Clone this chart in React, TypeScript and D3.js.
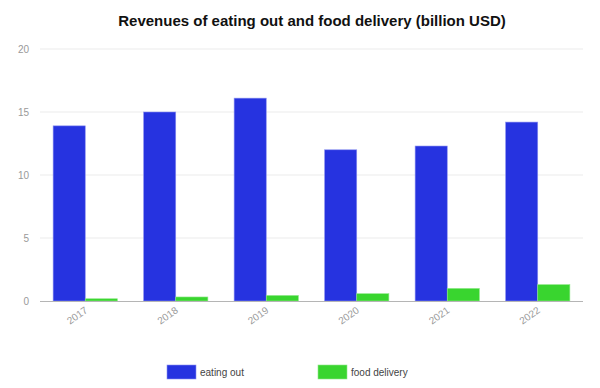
import React, { useEffect, useRef } from 'react'
import * as d3 from 'd3'

const years = ['2017', '2018', '2019', '2020', '2021', '2022']
const eatingOut = [13.9, 15.0, 16.1, 12.0, 12.3, 14.2]
const foodDelivery = [0.18, 0.32, 0.44, 0.58, 1.0, 1.3]
const seriesNames = ['eating out', 'food delivery']
const seriesColors = ['#2633e0', '#39d52f']
const yTicks = [0, 5, 10, 15, 20]

const W = 600
const H = 388
const margin = { top: 49, right: 17, bottom: 87, left: 40 }

export default function App() {
    const svgRef = useRef<SVGSVGElement | null>(null)

    useEffect(() => {
        const svg = d3.select(svgRef.current)
        svg.selectAll('*').remove()

        const x0 = d3
            .scaleBand()
            .domain(years)
            .range([margin.left, W - margin.right])
            .paddingInner(0.29)
            .paddingOuter(0.145)

        const x1 = d3.scaleBand().domain(seriesNames).range([0, x0.bandwidth()])

        const y = d3
            .scaleLinear()
            .domain([0, 20])
            .range([H - margin.bottom, margin.top])

        // gridlines
        svg.append('g')
            .selectAll('line')
            .data(yTicks.filter((t) => t > 0))
            .join('line')
            .attr('x1', margin.left)
            .attr('x2', W - margin.right)
            .attr('y1', (d) => y(d))
            .attr('y2', (d) => y(d))
            .attr('stroke', '#ebebeb')
            .attr('stroke-width', 1)

        // y labels
        svg.append('g')
            .selectAll('text')
            .data(yTicks)
            .join('text')
            .attr('x', 29)
            .attr('y', (d) => y(d))
            .attr('dy', '0.35em')
            .attr('text-anchor', 'end')
            .attr('font-family', 'Arial, "Liberation Sans", sans-serif')
            .attr('font-size', 10)
            .attr('fill', '#999')
            .text((d) => d)

        // bars
        const rows = years.map((yr, i) => ({ year: yr, values: [eatingOut[i], foodDelivery[i]] }))
        const group = svg
            .append('g')
            .selectAll('g')
            .data(rows)
            .join('g')
            .attr('transform', (d) => `translate(${x0(d.year)},0)`)

        group
            .selectAll('rect')
            .data((d) => d.values.map((v, k) => ({ key: seriesNames[k], value: v, k })))
            .join('rect')
            .attr('x', (d) => x1(d.key)!)
            .attr('width', x1.bandwidth())
            .attr('y', (d) => y(d.value))
            .attr('height', (d) => y(0) - y(d.value))
            .attr('fill', (d) => seriesColors[d.k])
            .attr('stroke', (d) => (d.k === 0 ? '#8b91f0' : '#8fe889'))
            .attr('stroke-width', 0.6)

        // baseline
        svg.append('line')
            .attr('x1', margin.left)
            .attr('x2', W - margin.right)
            .attr('y1', y(0) + 0.5)
            .attr('y2', y(0) + 0.5)
            .attr('stroke', '#b5b5b5')

        // x labels, rotated
        svg.append('g')
            .selectAll('text')
            .data(years)
            .join('text')
            .attr(
                'transform',
                (d) => `translate(${x0(d)! + x0.bandwidth() / 2 + 1},${y(0) + 8}) rotate(-35)`
            )
            .attr('text-anchor', 'end')
            .attr('dy', '0.35em')
            .attr('font-family', 'Arial, "Liberation Sans", sans-serif')
            .attr('font-size', 10)
            .attr('fill', '#999')
            .text((d) => d)

        // title
        svg.append('text')
            .attr('x', 312)
            .attr('y', 26)
            .attr('text-anchor', 'middle')
            .attr('font-family', 'Arial, "Liberation Sans", sans-serif')
            .attr('font-weight', 'bold')
            .attr('font-size', 15)
            .attr('fill', '#111')
            .text('Revenues of eating out and food delivery (billion USD)')

        // legend
        const legendX = [167, 318]
        const legend = svg
            .append('g')
            .selectAll('g')
            .data(seriesNames)
            .join('g')
            .attr('transform', (_, i) => `translate(${legendX[i]},365)`)

        legend
            .append('rect')
            .attr('width', 29)
            .attr('height', 14)
            .attr('fill', (_, i) => seriesColors[i])
            .attr('stroke', (_, i) => (i === 0 ? '#8b91f0' : '#8fe889'))
            .attr('stroke-width', 0.6)

        legend
            .append('text')
            .attr('x', 33)
            .attr('y', 7)
            .attr('dy', '0.35em')
            .attr('font-family', 'Arial, "Liberation Sans", sans-serif')
            .attr('font-size', 10)
            .attr('fill', '#444')
            .text((d) => d)
    }, [])

    return (
        <svg
            ref={svgRef}
            width={W}
            height={H}
            style={{ position: 'absolute', left: 0, top: 0, background: '#fff' }}
        />
    )
}
